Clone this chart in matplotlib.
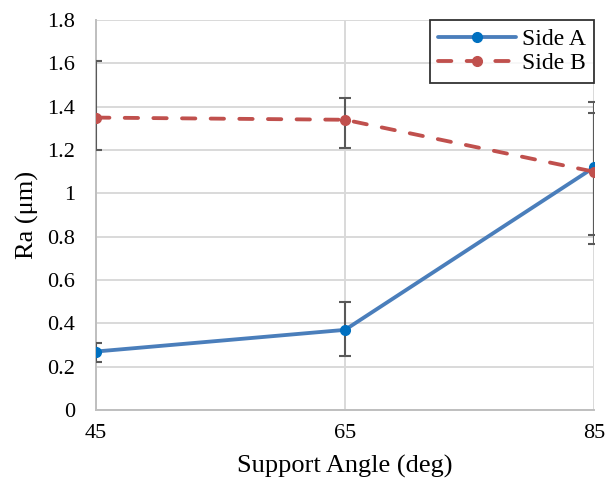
import matplotlib
matplotlib.use("Agg")
import matplotlib.pyplot as plt
from matplotlib.ticker import FuncFormatter

# data
angles = [45, 65, 85]
side_a = [0.27, 0.37, 1.12]
side_a_lo = [0.05, 0.12, 0.31]
side_a_hi = [0.04, 0.13, 0.30]
side_b = [1.35, 1.34, 1.10]
side_b_lo = [0.15, 0.13, 0.335]
side_b_hi = [0.26, 0.10, 0.27]

plt.rcParams['font.family'] = ['Liberation Serif', 'DejaVu Serif']

fig = plt.figure(figsize=(6.08, 4.91), dpi=100)
ax = fig.add_axes([0.158, 0.165, 0.819, 0.794])

ax.plot(angles, side_a, color="#4A7EBB", lw=2.75, marker="o", ms=7,
        mfc="#0070C0", mec="#0070C0", label="Side A", zorder=4,
        solid_capstyle="round")
ax.plot(angles, side_b, color="#C0504D", lw=2.75, ls=(0, (3.5, 4)), marker="o", ms=7,
        mfc="#C0504D", mec="#C0504D", label="Side B", zorder=4,
        dash_capstyle="round")
ax.errorbar(angles, side_a, yerr=[side_a_lo, side_a_hi], fmt="none",
            ecolor="#595959", elinewidth=1.5, capsize=4, capthick=1.5, zorder=3)
ax.errorbar(angles, side_b, yerr=[side_b_lo, side_b_hi], fmt="none",
            ecolor="#595959", elinewidth=1.5, capsize=4, capthick=1.5, zorder=3)

ax.set_xlim(45, 85)
ax.set_ylim(0, 1.8)
ax.set_xticks(angles)
ax.set_yticks([i * 0.2 for i in range(10)])
ax.yaxis.set_major_formatter(FuncFormatter(lambda v, p: f"{v:g}"))
ax.grid(True, color="#D9D9D9", lw=1.4)
ax.set_axisbelow(True)
for name, s in ax.spines.items():
    if name in ("left", "bottom"):
        s.set_color("#BFBFBF")
        s.set_linewidth(1.4)
        s.set_zorder(1)
    else:
        s.set_visible(False)
ax.tick_params(length=0, labelsize=16)
ax.tick_params(axis="x", pad=10)
ax.tick_params(axis="y", pad=15)

ax.set_xlabel("Support Angle (deg)", fontsize=19, labelpad=9)
ax.set_ylabel("Ra (μm)", fontsize=19, labelpad=6)

leg = ax.legend(loc="upper right", borderaxespad=0, fancybox=False, edgecolor="black",
                fontsize=17, handlelength=3.3, borderpad=0.35, labelspacing=0.12,
                handletextpad=0.25)
leg.get_frame().set_linewidth(1.3)
leg.set_zorder(5)

fig.savefig("out.png", dpi=100)
